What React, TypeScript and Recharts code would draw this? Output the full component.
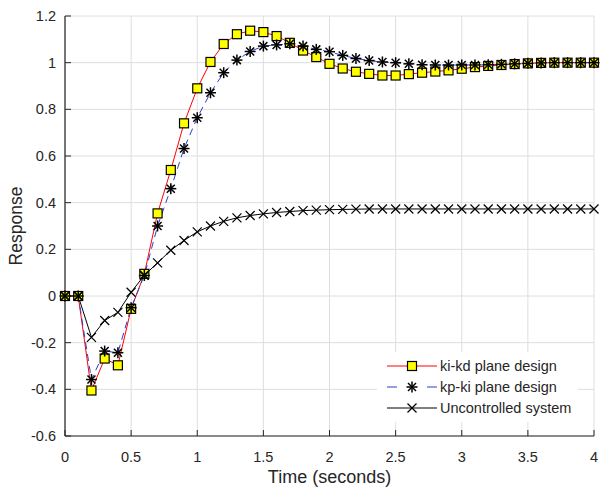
import React from "react"
import { LineChart, Line, XAxis, YAxis, CartesianGrid, Legend } from "recharts"

const FONT = '"Liberation Sans", Arial, sans-serif'
const TEXT = "#262626"

// sampled every 0.1 s
const TIME = [
  0, 0.1, 0.2, 0.3, 0.4, 0.5, 0.6, 0.7, 0.8, 0.9, 1, 1.1, 1.2, 1.3, 1.4, 1.5, 1.6, 1.7, 1.8, 1.9, 2, 2.1, 2.2, 2.3,
  2.4, 2.5, 2.6, 2.7, 2.8, 2.9, 3, 3.1, 3.2, 3.3, 3.4, 3.5, 3.6, 3.7, 3.8, 3.9, 4,
]

const KIKD = [
  0, 0, -0.405, -0.268, -0.297, -0.055, 0.095, 0.354, 0.54, 0.74, 0.89, 1.003, 1.08, 1.122, 1.137, 1.131, 1.114,
  1.085, 1.052, 1.024, 0.995, 0.975, 0.961, 0.952, 0.945, 0.945, 0.951, 0.957, 0.962, 0.967, 0.974, 0.981, 0.986,
  0.99, 0.994, 0.997, 0.999, 1.0, 1.0, 1.0, 1.0,
]

const KPKI = [
  0, 0, -0.358, -0.236, -0.243, -0.05, 0.088, 0.3, 0.46, 0.632, 0.764, 0.871, 0.957, 1.011, 1.048, 1.071, 1.076,
  1.081, 1.071, 1.057, 1.047, 1.031, 1.018, 1.009, 1.003, 1.0, 0.995, 0.991, 0.99, 0.99, 0.99, 0.99, 0.991, 0.993,
  0.995, 0.997, 0.999, 1.0, 1.0, 1.0, 1.0,
]

const UNCONTROLLED = [
  0, 0, -0.177, -0.105, -0.07, 0.016, 0.089, 0.142, 0.196, 0.238, 0.275, 0.3, 0.32, 0.335, 0.345, 0.352, 0.358,
  0.362, 0.366, 0.368, 0.37, 0.371, 0.372, 0.373, 0.373, 0.373, 0.373, 0.373, 0.373, 0.373, 0.373, 0.373, 0.373,
  0.373, 0.373, 0.373, 0.373, 0.373, 0.373, 0.373, 0.373,
]

const X_TICKS = [0, 0.5, 1, 1.5, 2, 2.5, 3, 3.5, 4]
const Y_TICKS = [-0.6, -0.4, -0.2, 0, 0.2, 0.4, 0.6, 0.8, 1, 1.2]

const NAMES = ["ki-kd plane design", "kp-ki plane design", "Uncontrolled system"]

const data = TIME.map((t, i) => ({ t, kikd: KIKD[i], kpki: KPKI[i], unc: UNCONTROLLED[i] }))

const Square = ({ cx, cy }: { cx: number; cy: number }) => (
  <rect x={cx - 4.5} y={cy - 4.5} width={9} height={9} fill="#ffff00" stroke="#000" strokeWidth={1.2} />
)

const Star = ({ cx, cy }: { cx: number; cy: number }) => (
  <g stroke="#000" strokeWidth={1.5}>
    <line x1={cx - 5.5} y1={cy} x2={cx + 5.5} y2={cy} />
    <line x1={cx} y1={cy - 5.5} x2={cx} y2={cy + 5.5} />
    <line x1={cx - 4} y1={cy - 4} x2={cx + 4} y2={cy + 4} />
    <line x1={cx - 4} y1={cy + 4} x2={cx + 4} y2={cy - 4} />
  </g>
)

const Cross = ({ cx, cy }: { cx: number; cy: number }) => (
  <g stroke="#000" strokeWidth={1.2}>
    <line x1={cx - 4.5} y1={cy - 4.5} x2={cx + 4.5} y2={cy + 4.5} />
    <line x1={cx - 4.5} y1={cy + 4.5} x2={cx + 4.5} y2={cy - 4.5} />
  </g>
)

function LegendBox() {
  const icons = [
    <svg width={50} height={14} key="a">
      <line x1={0} y1={7} x2={50} y2={7} stroke="#ff0000" />
      <Square cx={25} cy={7} />
    </svg>,
    <svg width={50} height={14} key="b">
      <line x1={0} y1={7} x2={10} y2={7} stroke="#2a3fcf" />
      <line x1={40} y1={7} x2={50} y2={7} stroke="#2a3fcf" />
      <Star cx={25} cy={7} />
    </svg>,
    <svg width={50} height={14} key="c">
      <line x1={0} y1={7} x2={50} y2={7} stroke="#000" />
      <Cross cx={25} cy={7} />
    </svg>,
  ]
  return (
    <div
      style={{
        background: "#fff",
        width: 201,
        height: 70,
        boxSizing: "border-box",
        padding: "4px 0 0 10px",
        fontFamily: FONT,
        fontSize: 14.5,
        color: TEXT,
      }}
    >
      {NAMES.map((name, i) => (
        <div key={name} style={{ display: "flex", alignItems: "center", height: 20.7 }}>
          {icons[i]}
          <span style={{ marginLeft: 3, whiteSpace: "nowrap" }}>{name}</span>
        </div>
      ))}
    </div>
  )
}

export default function App() {
  return (
    <div style={{ position: "absolute", left: 0, top: 0, width: 600, height: 489, background: "#fff" }}>
      <LineChart width={600} height={489} data={data} margin={{ top: 16, right: 6, bottom: 0, left: 0 }}>
        <CartesianGrid stroke="#dedede" strokeWidth={1} />
        <XAxis
          type="number"
          dataKey="t"
          domain={[0, 4]}
          ticks={X_TICKS}
          height={53}
          tickSize={-6}
          tickMargin={22}
          axisLine={{ stroke: TEXT, strokeWidth: 1.2 }}
          tickLine={{ stroke: TEXT }}
          tick={{ fill: TEXT, fontSize: 14.5, fontFamily: FONT }}
          label={{
            value: "Time (seconds)",
            position: "insideBottom",
            offset: 6,
            fill: TEXT,
            fontSize: 18,
            fontFamily: FONT,
          }}
        />
        <YAxis
          type="number"
          domain={[-0.6, 1.2]}
          ticks={Y_TICKS}
          width={65}
          tickSize={-6}
          tickMargin={15}
          axisLine={{ stroke: TEXT, strokeWidth: 1.2 }}
          tickLine={{ stroke: TEXT }}
          tick={{ fill: TEXT, fontSize: 14.5, fontFamily: FONT }}
          label={{
            value: "Response",
            angle: -90,
            position: "insideLeft",
            offset: 16,
            fill: TEXT,
            fontSize: 17.5,
            fontFamily: FONT,
            style: { textAnchor: "middle" },
          }}
        />
        <Line
          dataKey="kikd"
          name={NAMES[0]}
          stroke="#ff0000"
          strokeWidth={1}
          isAnimationActive={false}
          dot={(p: any) => <Square key={`sq-${p.index}`} cx={p.cx} cy={p.cy} />}
          activeDot={false}
        />
        <Line
          dataKey="kpki"
          name={NAMES[1]}
          stroke="#2a3fcf"
          strokeWidth={1}
          strokeDasharray="7 5"
          isAnimationActive={false}
          dot={(p: any) => <Star key={`st-${p.index}`} cx={p.cx} cy={p.cy} />}
          activeDot={false}
        />
        <Line
          dataKey="unc"
          name={NAMES[2]}
          stroke="#000"
          strokeWidth={1}
          isAnimationActive={false}
          dot={(p: any) => <Cross key={`x-${p.index}`} cx={p.cx} cy={p.cy} />}
          activeDot={false}
        />
        <Legend
          layout="vertical"
          align="center"
          verticalAlign="middle"
          content={() => <LegendBox />}
          wrapperStyle={{ left: 377, top: 352, width: 201, height: 70 }}
        />
      </LineChart>
    </div>
  )
}
